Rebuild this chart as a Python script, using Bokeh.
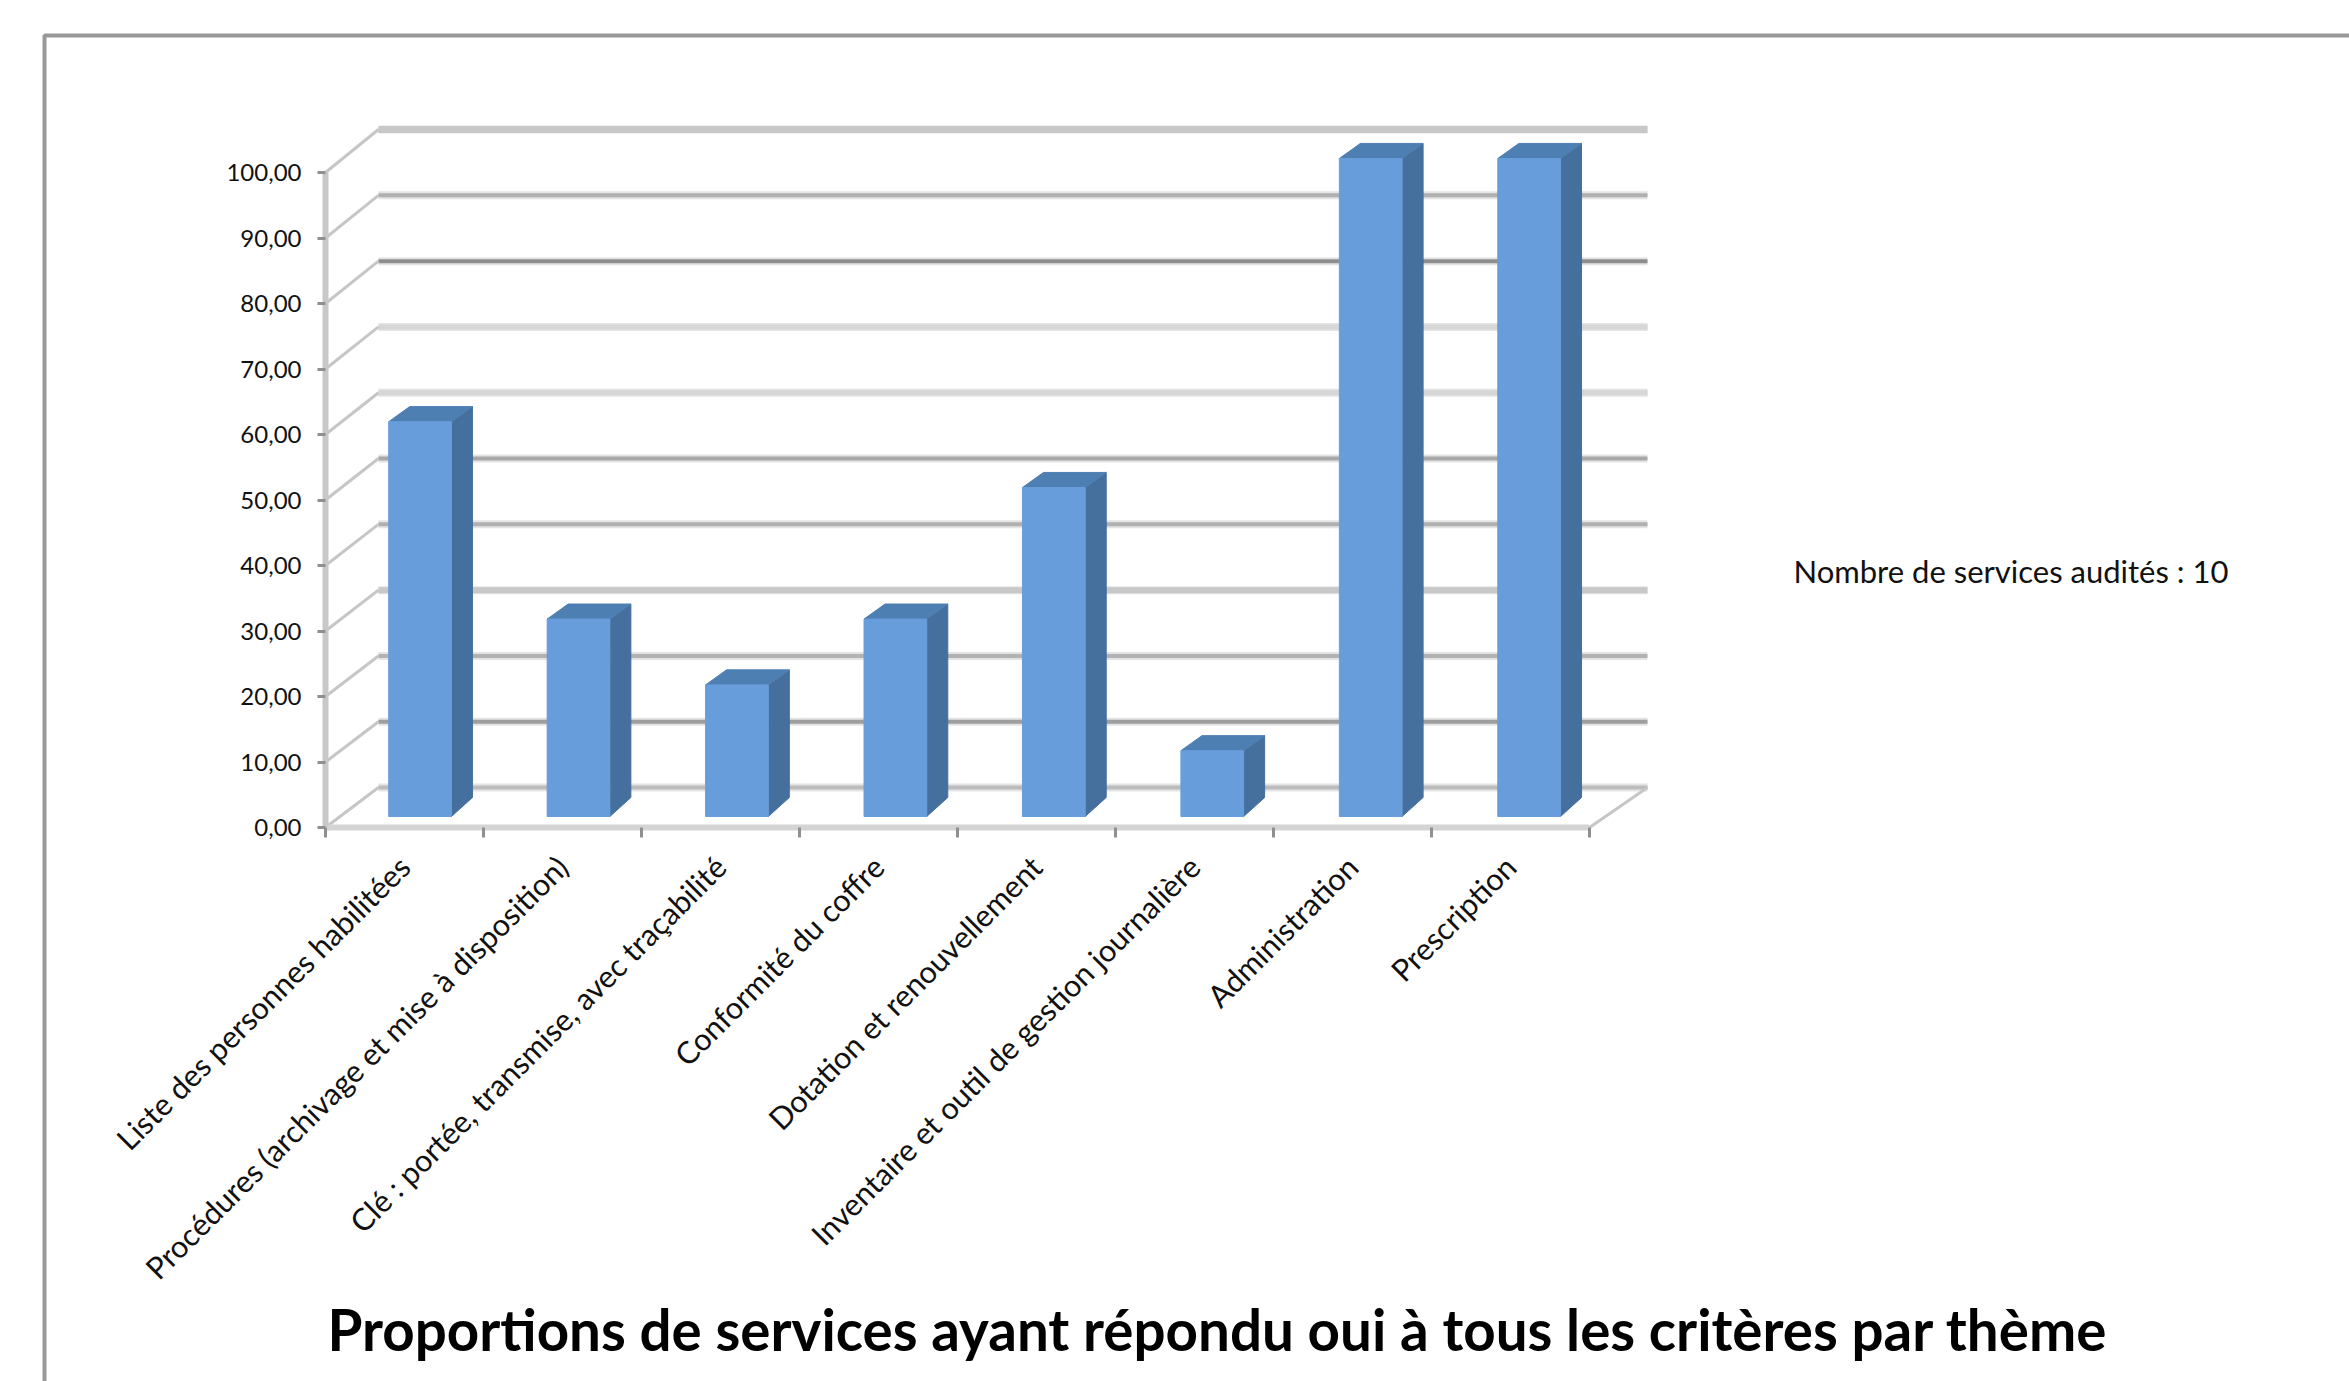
import math
from bokeh.plotting import figure
from bokeh.models import Range1d, FixedTicker, Label, BoxAnnotation
from bokeh.embed import file_html
from bokeh.resources import INLINE

categories = [
    "Liste des personnes habilitées",
    "Procédures (archivage et mise à disposition)",
    "Clé : portée, transmise, avec traçabilité",
    "Conformité du coffre",
    "Dotation et renouvellement",
    "Inventaire et outil de gestion journalière",
    "Administration",
    "Prescription",
]
values = [60, 30, 20, 30, 50, 10, 100, 100]
y_ticks = [0, 10, 20, 30, 40, 50, 60, 70, 80, 90, 100]
y_tick_labels = ["0,00", "10,00", "20,00", "30,00", "40,00", "50,00", "60,00", "70,00", "80,00", "90,00", "100,00"]
title_text = "Proportions de services ayant répondu oui à tous les critères par thème"
note_text = "Nombre de services audités : 10"

# grid tone per tick (0..100), as it appears in the reference
grid_colors = ["#bcbcbc", "#9e9e9e", "#b2b2b2", "#c8c8c8", "#b0b0b0", "#a8a8a8", "#d6d6d6", "#d6d6d6", "#8e8e8e", "#b0b0b0", "#c8c8c8"]
grid_widths = [4, 4, 4, 6, 4, 4, 5, 5, 4, 4, 7]

# geometry of the pseudo 3D view, in data units
PX_X, PX_Y = 158.0, 6.55
LEFT_PX, BASE_PX = 325, 827
W, H = 2349, 1381
BACK_L, BACK_R = 0.335, 8.367
BACK_RISE, BACK_SCALE = 6.1, 1.0046
BAR_X, BAR_W, BAR_STEP = 0.40, 0.397, 1.0028
BAR_BASE, BAR_SCALE = 1.68, 1.0046
DEPTH_X, DEPTH_Y_TOP, DEPTH_Y_BASE = 0.133, 2.3, 2.9

p = figure(width=W, height=H, output_backend="svg", toolbar_location=None,
           x_range=Range1d(-LEFT_PX / PX_X, (W - LEFT_PX) / PX_X),
           y_range=Range1d(-(H - BASE_PX) / PX_Y, BASE_PX / PX_Y),
           min_border_left=0, min_border_right=0, min_border_top=0, min_border_bottom=0,
           background_fill_color="white", border_fill_color="white", outline_line_color=None)
p.grid.visible = False

FONT = "Lato"
# axes
ya = p.yaxis[0]
ya.fixed_location = 0
ya.ticker = FixedTicker(ticks=y_ticks)
ya.major_label_overrides = dict(zip(y_ticks, y_tick_labels))
ya.bounds = (0, 100)
ya.axis_line_color = "#c8c8c8"; ya.axis_line_width = 6
ya.major_tick_line_color = "#8f8f8f"; ya.major_tick_line_width = 3
ya.major_tick_out = 8; ya.major_tick_in = 0; ya.minor_tick_out = 0; ya.minor_tick_in = 0
ya.major_label_standoff = 16
ya.major_label_text_font = FONT; ya.major_label_text_font_size = "24px"; ya.major_label_text_color = "#111111"

n = len(categories)
centers = [i + 0.5 for i in range(n)]
xa = p.xaxis[0]
xa.fixed_location = 0
xa.ticker = FixedTicker(ticks=centers, minor_ticks=list(range(n + 1)))
xa.major_label_overrides = dict(zip(centers, categories))
xa.bounds = (0, n)
xa.axis_line_color = "#d4d4d4"; xa.axis_line_width = 6
xa.major_tick_out = 0; xa.major_tick_in = 0; xa.major_tick_line_color = None
xa.minor_tick_out = 10; xa.minor_tick_in = 0; xa.minor_tick_line_color = "#8f8f8f"; xa.minor_tick_line_width = 3
xa.major_label_orientation = math.pi / 4
xa.major_label_standoff = 24
xa.major_label_text_font = FONT; xa.major_label_text_font_size = "30.6px"; xa.major_label_text_color = "#111111"

# back wall
back_y = [BACK_RISE + BACK_SCALE * v for v in y_ticks]
p.segment(x0=[BACK_L] * len(y_ticks), x1=[BACK_R] * len(y_ticks), y0=back_y, y1=back_y,
          line_color="#e4e4e4", line_width=8)
p.segment(x0=[BACK_L] * len(y_ticks), x1=[BACK_R] * len(y_ticks), y0=back_y, y1=back_y,
          line_color=grid_colors, line_width=grid_widths)
# side wall and floor edge
p.segment(x0=[0] * len(y_ticks), x1=[BACK_L] * len(y_ticks), y0=y_ticks, y1=back_y,
          line_color="#c6c6c6", line_width=3)
p.segment(x0=[n], x1=[BACK_R], y0=[0], y1=[back_y[0]], line_color="#c6c6c6", line_width=3)

# bars
x0 = [i * BAR_STEP + BAR_X for i in range(n)]
x1 = [x + BAR_W for x in x0]
top = [BAR_BASE + BAR_SCALE * v for v in values]
bottom = [BAR_BASE] * n
side_xs = [[a, a + DEPTH_X, a + DEPTH_X, a] for a in x1]
side_ys = [[BAR_BASE, BAR_BASE + DEPTH_Y_BASE, t + DEPTH_Y_TOP, t] for t in top]
top_xs = [[a, a + DEPTH_X, b + DEPTH_X, b] for a, b in zip(x0, x1)]
top_ys = [[t, t + DEPTH_Y_TOP, t + DEPTH_Y_TOP, t] for t in top]
p.patches(side_xs, side_ys, fill_color="#456f9c", line_color="#456f9c", line_width=1)
p.patches(top_xs, top_ys, fill_color="#4d7fb3", line_color="#4d7fb3", line_width=1)
p.quad(left=x0, right=x1, bottom=bottom, top=top, fill_color="#689ddc", line_color="#689ddc", line_width=1)


def dx(px):
    return (px - LEFT_PX) / PX_X


def dy(px):
    return (BASE_PX - px) / PX_Y


p.add_layout(Label(x=dx(1793), y=dy(570), text=note_text, text_font=FONT, text_font_size="31px",
                   text_color="#111111", text_baseline="middle", text_align="left"))
p.add_layout(Label(x=dx(1217), y=dy(1328), text=title_text, text_font=FONT, text_font_style="bold",
                   text_font_size="56.5px", text_color="#000000", text_baseline="middle", text_align="center"))
p.add_layout(BoxAnnotation(left=dx(44), top=dy(35), right=dx(2500), bottom=dy(1500), fill_alpha=0,
                           line_color="#999999", line_alpha=1, line_width=4))

open("out.html", "w").write(file_html(p, INLINE))
